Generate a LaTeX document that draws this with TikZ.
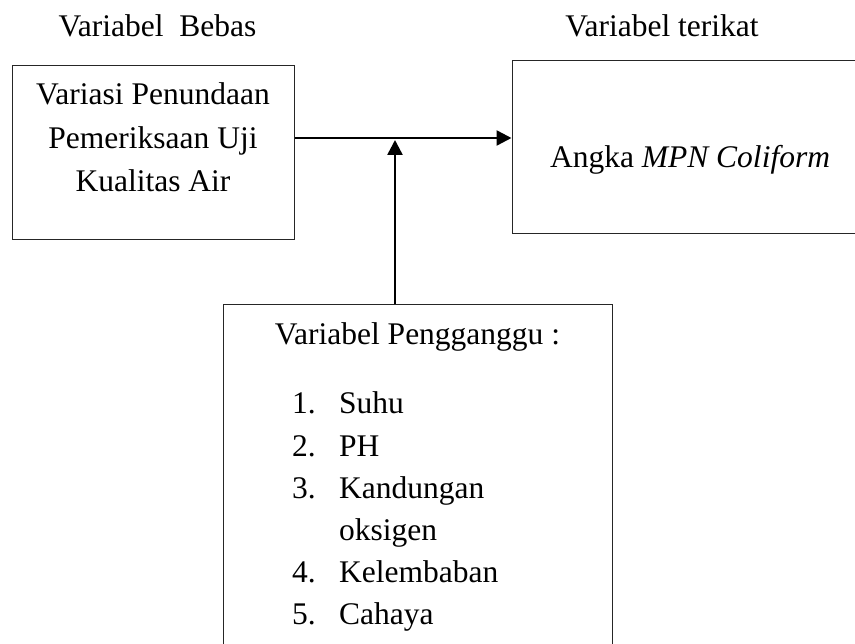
\documentclass[tikz,border=0pt]{standalone}
\usepackage{fontspec}
\setmainfont{Liberation Serif}
\usetikzlibrary{arrows.meta}
\begin{document}
\begin{tikzpicture}[x=1pt,y=-1pt,>={Triangle[length=15pt,width=15pt]},
    kotak/.style={draw=black!85, line width=1pt, inner sep=0pt},
    teks/.style={inner sep=0pt, font=\fontsize{31.5}{43.5}\selectfont},
    panah/.style={->, line width=2.5pt}]
        \clip (0,0) rectangle (855,644);
        \node (bebas) [kotak, minimum width=282pt, minimum height=174pt] at (153,153) {};
        \node (terikat) [kotak, minimum width=358pt, minimum height=173pt] at (691,147.5) {};
        \node (pengganggu) [kotak, minimum width=389pt, minimum height=375pt] at (417.5,492.5) {};
        \node (judulbebas) [teks, anchor=base] at (157.5,37) {Variabel~~Bebas};
        \node (judulterikat) [teks, anchor=base] at (662,37) {Variabel terikat};
        \node (isibebas) [teks, anchor=base] at (153,105)
            {\begin{tabular}[t]{@{}c@{}}Variasi Penundaan\\Pemeriksaan Uji\\Kualitas Air\end{tabular}};
        \node (isiterikat) [teks, anchor=base] at (690,168) {Angka \textit{MPN Coliform}};
        \node (judulpengganggu) [teks, anchor=base] at (417.5,345) {Variabel Pengganggu :};
        \node (daftar) [teks, font=\fontsize{31.5}{42.2}\selectfont, anchor=base west] at (292,414)
            {\begin{tabular}[t]{@{}p{47pt}@{}l@{}}
                1. & Suhu\\ 2. & PH\\ 3. & Kandungan\\ & oksigen\\ 4. & Kelembaban\\ 5. & Cahaya
             \end{tabular}};
        \coordinate (temu) at (395,140);
        \draw[panah] ([yshift=15pt]bebas.east) -- ([yshift=15pt]bebas.east -| terikat.west);
        \draw[panah] (pengganggu.north -| temu) -- (temu);
    \end{tikzpicture}
\end{document}
